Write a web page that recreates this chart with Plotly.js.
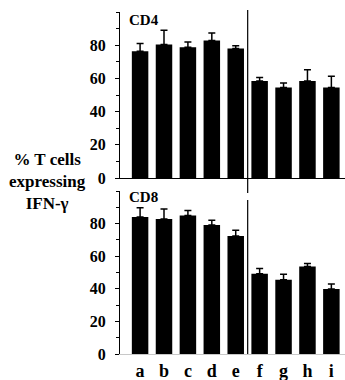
<!DOCTYPE html>
<html>
<head>
<meta charset="utf-8">
<script src="https://cdn.plot.ly/plotly-3.0.1.min.js"></script>
<style>html,body{margin:0;padding:0;background:#fff;}#chart{width:345px;height:380px;}</style>
</head>
<body>
<div id="chart"></div>
<script>
const categories = ['a','b','c','d','e','f','g','h','i'];
const cd4Values = [76.4, 80.4, 78.8, 82.8, 78.0, 58.5, 54.5, 58.5, 54.5];
const cd4Errors = [4.6, 8.6, 3.2, 4.6, 1.6, 2.1, 2.8, 6.7, 6.8];
const cd8Values = [84.0, 82.8, 84.9, 79.1, 72.4, 49.2, 45.5, 53.7, 39.8];
const cd8Errors = [5.8, 6.1, 3.2, 2.9, 3.5, 3.2, 3.5, 1.8, 3.2];
const yTicks = [0, 20, 40, 60, 80];
const panelLabels = ['CD4', 'CD8'];
const yTitle = '% T cells<br>expressing<br>IFN-γ';

const serif = 'Liberation Serif, Times New Roman, serif';
const zeros = categories.map(() => 0);

function barTrace(vals, errs, xa, ya) {
  return {
    type: 'bar', x: categories, y: vals, xaxis: xa, yaxis: ya,
    width: 0.69,
    marker: {color: '#000', line: {width: 0}},
    error_y: {type: 'data', symmetric: false, array: errs, arrayminus: zeros,
              color: '#000', thickness: 1.5, width: 3.5},
    hoverinfo: 'none', showlegend: false
  };
}

const yCommon = {
  range: [0, 100], tickvals: yTicks, ticktext: yTicks.map(String),
  showline: true, linecolor: '#000', linewidth: 1,
  ticks: 'outside', ticklen: 4, tickcolor: '#000', tickwidth: 1,
  minor: {dtick: 10, tick0: 0, ticks: 'outside', ticklen: 3, tickcolor: '#000', showgrid: false},
  showgrid: false, zeroline: false,
  ticklabelstandoff: 6,
  tickfont: {family: serif, size: 16, color: '#000', weight: 700},
  fixedrange: true
};
const xRange = [-0.84, 8.57];

const layout = {
  width: 345, height: 380,
  margin: {l: 120, r: 0, t: 12, b: 26},
  paper_bgcolor: '#fff', plot_bgcolor: '#fff',
  bargap: 0.3,
  xaxis: {type: 'category', categoryorder: 'array', categoryarray: categories,
          range: xRange, anchor: 'y', domain: [0, 1],
          showticklabels: false, ticks: '', showline: true, linecolor: '#000', linewidth: 1,
          showgrid: false, zeroline: false},
  yaxis: Object.assign({}, yCommon, {domain: [0.5146, 1], anchor: 'x'}),
  xaxis2: {type: 'category', categoryorder: 'array', categoryarray: categories,
           range: xRange, anchor: 'y2', domain: [0, 1],
           showticklabels: true, ticks: '', showline: true, linecolor: '#c8c8c8', linewidth: 1,
           showgrid: false, zeroline: false,
           tickfont: {family: serif, size: 18, color: '#000', weight: 700}},
  yaxis2: Object.assign({}, yCommon, {domain: [0, 0.4766], anchor: 'x2'}),
  shapes: [
    {type: 'line', xref: 'x', yref: 'paper', x0: 4.5, x1: 4.5, y0: 0.4708, y1: 1.006,
     line: {color: '#000', width: 1.2}},
    {type: 'line', xref: 'x2', yref: 'paper', x0: 4.5, x1: 4.5, y0: 0, y1: 0.45,
     line: {color: '#000', width: 1.2}}
  ],
  annotations: [
    {text: panelLabels[0], xref: 'paper', yref: 'paper', x: 0.03, y: 0.978,
     xanchor: 'left', yanchor: 'middle', showarrow: false,
     font: {family: serif, size: 15, color: '#000', weight: 700}},
    {text: panelLabels[1], xref: 'paper', yref: 'paper', x: 0.03, y: 0.459,
     xanchor: 'left', yanchor: 'middle', showarrow: false,
     font: {family: serif, size: 15, color: '#000', weight: 700}},
    {text: yTitle, xref: 'paper', yref: 'paper', x: -0.324, y: 0.505,
     xanchor: 'center', yanchor: 'middle', showarrow: false, align: 'center',
     font: {family: serif, size: 17, color: '#000', weight: 700}}
  ]
};

Plotly.newPlot('chart', [
  barTrace(cd4Values, cd4Errors, 'x', 'y'),
  barTrace(cd8Values, cd8Errors, 'x2', 'y2')
], layout, {staticPlot: true, displayModeBar: false});
</script>
</body>
</html>
